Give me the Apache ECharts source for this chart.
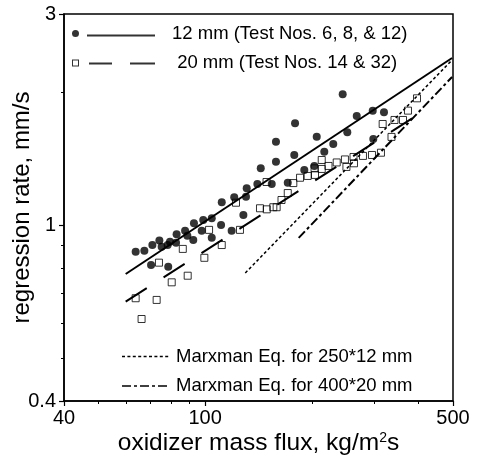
<!DOCTYPE html>
<html>
<head>
<meta charset="utf-8">
<script src="https://cdn.jsdelivr.net/npm/echarts@6/dist/echarts.min.js"></script>
<style>
html,body{margin:0;padding:0;background:#fff;}
#chart{width:477px;height:457px;}
</style>
</head>
<body>
<div id="chart"></div>
<script>
// ---- tick values ----
const xTickLabels = [40, 100, 500];
const xMinorTicks = [50, 60, 70, 80, 90, 200, 300, 400];
const yTickLabels = [0.4, 1, 3];
const yMinorTicks = [0.5, 0.6, 0.7, 0.8, 0.9, 2];

// ---- 12 mm data (filled circles) ----
const flux12 = [63.7, 67.4, 71.0, 74.3, 75.4, 78.4, 79.6, 83.1, 82.8, 87.8, 89.1, 92.6, 93.0, 97.8, 98.8, 104.4, 104.4, 110.9, 111.4, 118.8, 70.4, 78.7, 120.8, 128.2, 130.4, 131.0, 140.4, 143.5, 154.1, 158.4, 158.4, 171.0, 178.4, 179.3, 190.4, 203.2, 206.4, 216.8, 229.8, 244.3, 267.6, 296.9, 319.4, 251.7, 298.0];
const rate12 = [0.870, 0.875, 0.901, 0.922, 0.893, 0.901, 0.917, 0.953, 0.912, 0.970, 0.946, 0.925, 1.009, 0.970, 1.027, 1.036, 0.936, 1.000, 1.126, 0.970, 0.812, 0.805, 1.155, 1.053, 1.159, 1.211, 1.238, 1.343, 1.238, 1.543, 1.390, 1.246, 1.440, 1.698, 1.332, 1.360, 1.584, 1.465, 1.525, 1.975, 1.764, 1.814, 1.798, 1.621, 1.565];

// ---- 20 mm data (open squares) ----
const flux20 = [66.2, 63.7, 73.0, 80.5, 89.3, 74.1, 86.5, 99.5, 111.4, 102.6, 125.4, 122.2, 142.8, 149.2, 155.7, 159.1, 149.0, 164.2, 171.0, 177.3, 185.2, 194.6, 203.5, 204.1, 213.2, 213.2, 222.8, 235.0, 247.9, 250.3, 262.1, 262.9, 278.7, 295.5, 313.2, 316.7, 342.0, 361.4, 335.4, 373.3, 395.8];
const rate20 = [0.613, 0.683, 0.677, 0.742, 0.768, 0.822, 0.883, 0.843, 0.901, 0.975, 0.975, 1.123, 1.091, 1.085, 1.097, 1.097, 1.251, 1.139, 1.181, 1.244, 1.279, 1.291, 1.343, 1.298, 1.403, 1.339, 1.360, 1.385, 1.407, 1.353, 1.425, 1.379, 1.433, 1.440, 1.457, 1.692, 1.728, 1.728, 1.582, 1.814, 1.934];

// ---- fitted / model lines (end points) ----
const fit12Flux = [59.7, 497];
const fit12Rate = [0.775, 2.386];
const fit20Flux = [59.7, 403.5];
const fit20Rate = [0.671, 1.788];
const marx12Flux = [129.8, 497];
const marx12Rate = [0.779, 2.361];
const marx20Flux = [183.6, 497];
const marx20Rate = [0.935, 2.161];

const name12 = '12 mm (Test Nos. 6, 8, & 12)';
const name20 = '20 mm (Test Nos. 14 & 32)';
const nameM12 = 'Marxman Eq. for 250*12 mm';
const nameM20 = 'Marxman Eq. for 400*20 mm';

const zip = (a, b) => a.map((v, i) => [v, b[i]]);
const FONT = '"Liberation Sans", Arial, sans-serif';

// legend icons (paths)
const icon12 = 'path://M0,3.5a3.5,3.5 0 1,0 7,0a3.5,3.5 0 1,0 -7,0Z M15,4.5H83V6.5H15Z M95,3.5L95,3.5';
const icon20 = 'path://M0,0H7V7H0Z M1,1V6H6V1Z M17,3H40V5H17Z M58,3H83V5H58Z M95,3.5L95,3.5';
function dashPath(pattern, total, h) {
  let p = '', x = 0, i = 0;
  while (x < total - 0.5) {
    const len = pattern[i % pattern.length];
    if (i % 2 === 0) {
      const e = Math.min(x + len, total - 1);
      p += 'M' + x + ',0H' + e + 'V' + h + 'H' + x + 'Z ';
    }
    x += len; i++;
  }
  return 'path://' + p + 'M' + total + ',0L' + total + ',0';
}
const iconM12 = dashPath([3, 2.4], 49, 1.6);
const iconM20 = dashPath([9, 3, 3, 3], 49, 1.6);

const chart = echarts.init(document.getElementById('chart'), null, {renderer: 'canvas'});
const axisBase = {
  type: 'log', logBase: 10,
  splitLine: {show: false}, minorTick: {show: false}, minorSplitLine: {show: false}
};
const option = {
  animation: false,
  backgroundColor: '#fff',
  textStyle: {fontFamily: FONT, color: '#000'},
  grid: {left: 64, top: 14, width: 389, height: 387, show: true, borderColor: '#000', borderWidth: 1.5,
         backgroundColor: 'transparent', containLabel: false, outerBoundsMode: 'none'},
  legend: [
    {
      left: 72, top: 24, orient: 'vertical', padding: 0, itemGap: 10.5,
      itemWidth: 95, itemHeight: 7, selectedMode: false,
      itemStyle: {color: '#000', borderWidth: 0},
      textStyle: {fontFamily: FONT, fontSize: 18.5, lineHeight: 18.5, color: '#000'},
      formatter: n => (n === name20 ? ' ' + n : n),
      data: [{name: name12, icon: icon12}, {name: name20, icon: icon20}]
    },
    {
      left: 122, top: 347, orient: 'vertical', padding: 0, itemGap: 10.5,
      itemWidth: 49, itemHeight: 1.6, selectedMode: false,
      itemStyle: {color: '#000', borderWidth: 0},
      textStyle: {fontFamily: FONT, fontSize: 18.5, lineHeight: 18.5, color: '#000'},
      data: [{name: nameM12, icon: iconM12}, {name: nameM20, icon: iconM20}]
    }
  ],
  xAxis: [
    Object.assign({}, axisBase, {
      min: 40, max: 500, position: 'bottom',
      axisLine: {show: true, onZero: false, lineStyle: {color: '#000', width: 1.5}},
      axisTick: {show: true, customValues: xTickLabels, length: 5, inside: false, lineStyle: {color: '#000', width: 1.2}},
      axisLabel: {show: true, customValues: xTickLabels, fontSize: 20, color: '#000', margin: 7, fontFamily: FONT, formatter: v => String(v)},
      name: 'oxidizer mass flux, kg/m{sup|2}s', nameLocation: 'middle', nameGap: 30, nameMoveOverlap: false,
      nameTextStyle: {fontSize: 24.5, color: '#000', fontFamily: FONT, rich: {sup: {fontSize: 14, verticalAlign: 'top', fontFamily: FONT, color: '#000'}}}
    }),
    Object.assign({}, axisBase, {
      min: 40, max: 500, position: 'bottom',
      axisLine: {show: false, onZero: false},
      axisTick: {show: true, customValues: xMinorTicks, length: 3, inside: false, lineStyle: {color: '#000', width: 1}},
      axisLabel: {show: false}
    })
  ],
  yAxis: [
    Object.assign({}, axisBase, {
      min: 0.4, max: 3, position: 'left',
      axisLine: {show: true, onZero: false, lineStyle: {color: '#000', width: 1.5}},
      axisTick: {show: true, customValues: yTickLabels, length: 5, inside: false, lineStyle: {color: '#000', width: 1.2}},
      axisLabel: {show: true, customValues: yTickLabels, fontSize: 20, color: '#000', margin: 8, fontFamily: FONT, formatter: v => String(v)},
      name: 'regression rate, mm/s', nameLocation: 'middle', nameGap: 30, nameMoveOverlap: false,
      nameTextStyle: {fontSize: 24, color: '#000', fontFamily: FONT}
    }),
    Object.assign({}, axisBase, {
      min: 0.4, max: 3, position: 'left',
      axisLine: {show: false, onZero: false},
      axisTick: {show: true, customValues: yMinorTicks, length: 3, inside: false, lineStyle: {color: '#000', width: 1}},
      axisLabel: {show: false}
    })
  ],
  series: [
    {name: name12 + ' fit', type: 'line', data: zip(fit12Flux, fit12Rate), showSymbol: false, symbol: 'none', silent: true,
     lineStyle: {color: '#000', width: 2, type: 'solid'}},
    {name: name20 + ' fit', type: 'line', data: zip(fit20Flux, fit20Rate), showSymbol: false, symbol: 'none', silent: true,
     lineStyle: {color: '#000', width: 2, type: [25, 20]}},
    {name: nameM12, type: 'line', data: zip(marx12Flux, marx12Rate), showSymbol: false, symbol: 'none', silent: true,
     itemStyle: {color: '#000'}, lineStyle: {color: '#000', width: 1.5, type: [3, 2.4]}},
    {name: nameM20, type: 'line', data: zip(marx20Flux, marx20Rate), showSymbol: false, symbol: 'none', silent: true,
     itemStyle: {color: '#000'}, lineStyle: {color: '#000', width: 2, type: [9, 3, 3, 3]}},
    {name: name12, type: 'scatter', data: zip(flux12, rate12), symbol: 'circle', symbolSize: 8,
     itemStyle: {color: '#000'}},
    {name: name20, type: 'scatter', data: zip(flux20, rate20), symbol: 'rect', symbolSize: 7,
     itemStyle: {color: 'rgba(255,255,255,0)', borderColor: '#000', borderWidth: 1}}
  ]
};
chart.setOption(option);
</script>
</body>
</html>
